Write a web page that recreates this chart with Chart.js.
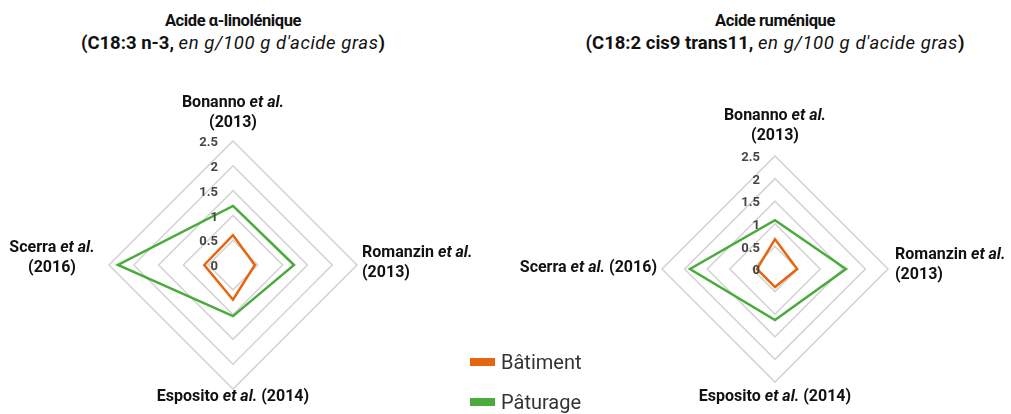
<!DOCTYPE html>
<html>
<head>
<meta charset="utf-8">
<script src="https://cdn.jsdelivr.net/npm/chart.js@4"></script>
<style>
  body { margin: 0; background: #fff; font-family: Roboto, sans-serif; }
  #wrap { position: relative; width: 1011px; height: 414px; overflow: hidden; }
  canvas { position: absolute; top: 0; }
  .title { position: absolute; top: 9px; text-align: center; font-size: 16.5px; letter-spacing: -0.4px; line-height: 23px; color: #111; font-weight: 700; white-space: nowrap; }
  .title .sub { font-size: 18.5px; letter-spacing: 0; }
  .title i { font-weight: 400; letter-spacing: 0.6px; }
  #legend { position: absolute; left: 470px; top: 342px; font-size: 20px; color: #333; }
  #legend div { height: 40px; display: flex; align-items: center; }
  #legend span.sw { display: inline-block; width: 25px; height: 8px; margin-right: 6px; }
</style>
</head>
<body>
<div id="wrap">
  <div class="title" style="left:33px;width:400px">Acide α-linolénique<br><span class="sub">(C18:3 n-3, <i>en g/100 g d'acide gras</i>)</span></div>
  <div class="title" style="left:575px;width:400px">Acide ruménique<br><span class="sub">(C18:2 cis9 trans11, <i>en g/100 g d'acide gras</i>)</span></div>
  <canvas id="chartLino" width="505" height="414" style="left:0"></canvas>
  <canvas id="chartRum" width="506" height="414" style="left:505px"></canvas>
  <div id="legend"></div>
</div>
<script>
// categories (one per axis, clockwise from top)
const authors = ["Bonanno", "Romanzin", "Esposito", "Scerra"];
const years = ["(2013)", "(2013)", "(2014)", "(2016)"];
const seriesNames = ["Bâtiment", "Pâturage"];
const seriesColors = ["#e8650f", "#4aab3c"];

// Acide α-linolénique
const linoBatiment = [0.6, 0.44, 0.7, 0.58];
const linoPaturage = [1.19, 1.23, 1.03, 2.32];

// Acide ruménique
const rumBatiment = [0.66, 0.49, 0.4, 0.4];
const rumPaturage = [1.08, 1.57, 1.13, 1.88];

const tickLabels = ["0", "0.5", "1", "1.5", "2", "2.5"];

const labelFont = "Roboto, sans-serif";

// draw "Name et al. (year)" with italic "et al."
function drawSegments(ctx, segs, x, y, align) {
  let total = 0;
  segs.forEach(s => {
    ctx.font = (s.i ? "italic " : "") + "700 16px " + labelFont;
    s.w = ctx.measureText(s.t).width;
    total += s.w;
  });
  let cx = x;
  if (align === "center") cx = x - total / 2;
  if (align === "right") cx = x - total;
  segs.forEach(s => {
    ctx.font = (s.i ? "italic " : "") + "700 16px " + labelFont;
    ctx.fillText(s.t, cx, y);
    cx += s.w;
  });
}

// layout of the point labels per chart: dx, dy from the outer point, alignment, one or two lines
function makeLabelPlugin(layout) {
  return {
    id: "customLabels",
    afterDraw(chart) {
      const ctx = chart.ctx;
      const scale = chart.scales.r;
      ctx.save();
      ctx.fillStyle = "#111";
      ctx.textBaseline = "middle";
      ctx.textAlign = "left";
      authors.forEach((name, i) => {
        const p = scale.getPointPosition(i, scale.drawingArea);
        const l = layout[i];
        const first = [{ t: name + " ", i: false }, { t: "et al.", i: true }];
        if (l.oneLine) {
          first.push({ t: " " + years[i], i: false });
          drawSegments(ctx, first, p.x + l.dx, p.y + l.dy, l.align);
        } else {
          drawSegments(ctx, first, p.x + l.dx, p.y + l.dy, l.align);
          drawSegments(ctx, [{ t: years[i], i: false }], p.x + l.dx2, p.y + l.dy + 20, l.align);
        }
      });
      // tick labels along the top axis
      ctx.font = "700 13px " + labelFont;
      ctx.fillStyle = "#454545";
      ctx.textAlign = "right";
      scale.ticks.forEach((tick, i) => {
        const d = scale.getDistanceFromCenterForValue(tick.value);
        ctx.fillText(tickLabels[i], scale.xCenter - 15, scale.yCenter - d + 2);
      });
      ctx.restore();
    }
  };
}

function makeChart(id, batiment, paturage, padding, layout) {
  const ctx = document.getElementById(id).getContext("2d");
  return new Chart(ctx, {
    type: "radar",
    data: {
      labels: authors,
      datasets: [
        { label: seriesNames[0], data: batiment, borderColor: seriesColors[0], borderWidth: 2.5, fill: false, pointRadius: 0, tension: 0 },
        { label: seriesNames[1], data: paturage, borderColor: seriesColors[1], borderWidth: 2.5, fill: false, pointRadius: 0, tension: 0 }
      ]
    },
    options: {
      responsive: false,
      animation: false,
      layout: { padding: padding },
      plugins: { legend: { display: false }, tooltip: { enabled: false } },
      scales: {
        r: {
          min: 0,
          max: 2.5,
          ticks: { display: false, stepSize: 0.5 },
          grid: { color: "#d4d4d4", lineWidth: 1.6 },
          angleLines: { display: false },
          pointLabels: { display: false }
        }
      }
    },
    plugins: [makeLabelPlugin(layout)]
  });
}

makeChart("chartLino", linoBatiment, linoPaturage,
  { left: 109, right: 148, top: 141, bottom: 25 },
  [
    { dx: 0, dy: -38, dx2: 0, align: "center" },
    { dx: 5, dy: -12, dx2: 5, align: "left" },
    { dx: 0, dy: 8, align: "center", oneLine: true },
    { dx: -57, dy: -17, dx2: -57, align: "center" }
  ]);

makeChart("chartRum", rumBatiment, rumPaturage,
  { left: 157, right: 123, top: 156, bottom: 32 },
  [
    { dx: 0, dy: -40, dx2: 0, align: "center" },
    { dx: 7, dy: -14, dx2: 7, align: "left" },
    { dx: 0, dy: 15, align: "center", oneLine: true },
    { dx: -5, dy: -1, align: "right", oneLine: true }
  ]);

// legend
const legend = document.getElementById("legend");
seriesNames.forEach((name, i) => {
  const row = document.createElement("div");
  row.innerHTML = '<span class="sw" style="background:' + seriesColors[i] + '"></span>' + name;
  legend.appendChild(row);
});
</script>
</body>
</html>
